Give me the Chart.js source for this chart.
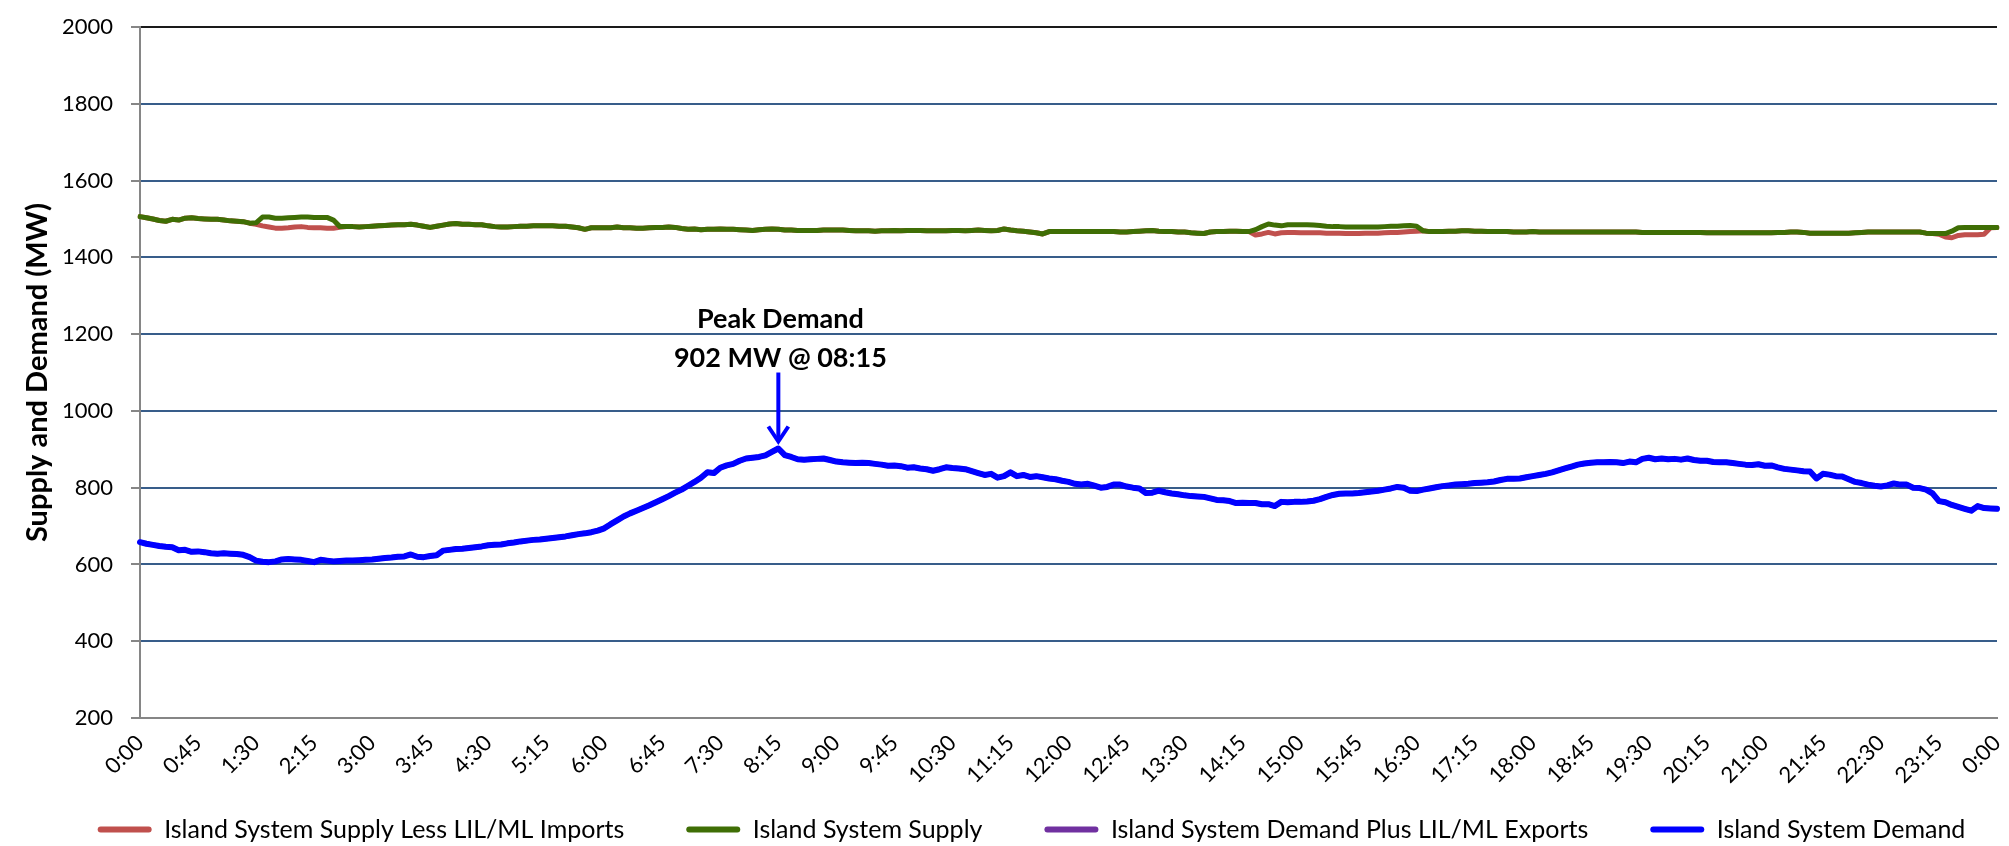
<!DOCTYPE html>
<html>
<head>
<meta charset="utf-8">
<script src="https://cdn.jsdelivr.net/npm/chart.js@4"></script>
<style>
  html, body { margin: 0; padding: 0; background: #ffffff; }
  #wrap { width: 2009px; height: 846px; }
</style>
</head>
<body>
<div id="wrap"><canvas id="c" width="2009" height="846"></canvas></div>
<script>
// ---- categories: 5-minute intervals 0:00 .. 0:00 (next day) ----
const timeLabels = [];
for (let m = 0; m <= 1440; m += 5) {
  const mm = m % 1440;
  timeLabels.push(Math.floor(mm / 60) + ':' + String(mm % 60).padStart(2, '0'));
}

// ---- visible x tick labels (every 45 minutes) ----
const tickLabels = ["0:00","0:45","1:30","2:15","3:00","3:45","4:30","5:15","6:00","6:45","7:30","8:15",
  "9:00","9:45","10:30","11:15","12:00","12:45","13:30","14:15","15:00","15:45","16:30","17:15",
  "18:00","18:45","19:30","20:15","21:00","21:45","22:30","23:15","0:00"];

// ---- series (MW), one row per hour, 12 values per row ----
const supplyLessImports = [
  1506,1503,1500,1496,1494,1499,1497,1502,1503,1501,1500,1499,
  1499,1497,1495,1494,1493,1489,1486,1482,1479,1476,1476,1477,
  1479,1480,1478,1477,1477,1476,1476,1478,1480,1480,1479,1480,
  1481,1482,1483,1484,1485,1485,1486,1484,1481,1478,1481,1484,
  1487,1488,1486,1486,1485,1485,1482,1480,1479,1479,1480,1481,
  1481,1482,1482,1482,1482,1481,1481,1479,1477,1473,1477,1477,
  1477,1477,1479,1477,1477,1476,1476,1477,1478,1478,1479,1478,
  1475,1473,1474,1472,1473,1473,1474,1473,1473,1472,1471,1470,
  1472,1473,1474,1473,1471,1471,1470,1470,1470,1470,1471,1471,
  1471,1471,1470,1469,1469,1469,1468,1469,1469,1470,1469,1470,
  1470,1470,1469,1469,1469,1469,1470,1470,1469,1470,1471,1470,
  1469,1470,1474,1471,1469,1468,1466,1464,1461,1467,1467,1467,
  1467,1467,1467,1467,1467,1467,1467,1467,1466,1466,1467,1468,
  1469,1470,1468,1467,1467,1466,1466,1464,1463,1462,1466,1467,
  1467,1468,1468,1467,1467,1458,1461,1465,1461,1464,1465,1465,
  1464,1464,1464,1464,1463,1463,1463,1462,1462,1462,1463,1463,
  1463,1464,1465,1465,1466,1467,1468,1469,1467,1467,1467,1468,
  1468,1469,1469,1468,1468,1467,1467,1467,1467,1466,1466,1466,
  1467,1466,1466,1466,1466,1466,1466,1466,1466,1466,1466,1466,
  1466,1466,1466,1466,1466,1465,1465,1465,1465,1465,1465,1465,
  1465,1465,1465,1464,1464,1464,1464,1464,1464,1464,1464,1464,
  1464,1464,1465,1465,1466,1466,1465,1463,1463,1463,1463,1463,
  1463,1463,1464,1465,1466,1466,1466,1466,1466,1466,1466,1466,
  1466,1463,1462,1460,1453,1451,1457,1459,1459,1459,1460,1477,
  1478
];

const islandSupply = [
  1506,1503,1500,1496,1494,1499,1497,1502,1503,1501,1500,1499,
  1499,1497,1495,1494,1493,1489,1490,1505,1505,1502,1502,1503,
  1504,1505,1505,1504,1504,1504,1497,1480,1480,1480,1479,1480,
  1481,1482,1483,1484,1485,1485,1486,1484,1481,1478,1481,1484,
  1487,1488,1486,1486,1485,1485,1482,1480,1479,1479,1480,1481,
  1481,1482,1482,1482,1482,1481,1481,1479,1477,1473,1477,1477,
  1477,1477,1479,1477,1477,1476,1476,1477,1478,1478,1479,1478,
  1475,1473,1474,1472,1473,1473,1474,1473,1473,1472,1471,1470,
  1472,1473,1474,1473,1471,1471,1470,1470,1470,1470,1471,1471,
  1471,1471,1470,1469,1469,1469,1468,1469,1469,1470,1469,1470,
  1470,1470,1469,1469,1469,1469,1470,1470,1469,1470,1471,1470,
  1469,1470,1474,1471,1469,1468,1466,1464,1461,1467,1467,1467,
  1467,1467,1467,1467,1467,1467,1467,1467,1466,1466,1467,1468,
  1469,1470,1468,1467,1467,1466,1466,1464,1463,1462,1466,1467,
  1467,1468,1468,1467,1467,1472,1480,1487,1484,1482,1485,1485,
  1485,1485,1484,1483,1481,1480,1480,1479,1479,1479,1479,1479,
  1479,1480,1481,1481,1482,1483,1481,1469,1467,1467,1467,1468,
  1468,1469,1469,1468,1468,1467,1467,1467,1467,1466,1466,1466,
  1467,1466,1466,1466,1466,1466,1466,1466,1466,1466,1466,1466,
  1466,1466,1466,1466,1466,1465,1465,1465,1465,1465,1465,1465,
  1465,1465,1465,1464,1464,1464,1464,1464,1464,1464,1464,1464,
  1464,1464,1465,1465,1466,1466,1465,1463,1463,1463,1463,1463,
  1463,1463,1464,1465,1466,1466,1466,1466,1466,1466,1466,1466,
  1466,1463,1462,1462,1462,1468,1477,1478,1478,1478,1478,1478,
  1478
];

const demandPlusExports = [
  658,654,651,648,646,645,637,638,633,634,632,629,
  628,629,628,627,625,619,610,607,606,608,613,614,
  613,612,609,606,612,610,608,609,610,610,611,612,
  613,615,617,618,620,621,626,620,619,622,624,636,
  638,640,641,643,645,647,650,651,652,655,657,660,
  662,664,665,667,669,671,673,676,679,681,684,688,
  694,705,715,725,733,740,747,754,762,770,778,787,
  795,805,815,826,840,838,852,858,862,870,876,878,
  880,884,893,902,885,880,874,873,874,875,876,872,
  868,866,865,864,865,864,862,860,857,858,856,852,
  853,850,848,844,848,853,851,850,848,843,838,833,
  836,826,830,840,830,833,828,830,827,824,822,818,
  815,810,808,810,805,800,802,808,808,803,800,798,
  786,787,792,788,785,783,780,778,777,776,772,768,
  767,765,760,761,760,760,757,757,752,763,762,763,
  763,764,766,770,776,781,784,785,785,786,788,790,
  792,795,798,802,800,792,791,795,798,801,804,806,
  808,809,810,812,813,814,816,820,823,823,824,827,
  830,833,836,840,845,850,855,860,863,865,866,866,
  867,866,864,868,866,875,878,874,876,874,875,873,
  876,872,870,870,867,866,866,864,862,860,859,861,
  857,858,853,849,847,845,843,842,824,836,834,830,
  829,822,815,812,808,805,803,806,811,808,808,800,
  799,795,785,765,762,755,750,745,740,752,747,746,
  745
];

const islandDemand = [
  658,654,651,648,646,645,637,638,633,634,632,629,
  628,629,628,627,625,619,610,607,606,608,613,614,
  613,612,609,606,612,610,608,609,610,610,611,612,
  613,615,617,618,620,621,626,620,619,622,624,636,
  638,640,641,643,645,647,650,651,652,655,657,660,
  662,664,665,667,669,671,673,676,679,681,684,688,
  694,705,715,725,733,740,747,754,762,770,778,787,
  795,805,815,826,840,838,852,858,862,870,876,878,
  880,884,893,902,885,880,874,873,874,875,876,872,
  868,866,865,864,865,864,862,860,857,858,856,852,
  853,850,848,844,848,853,851,850,848,843,838,833,
  836,826,830,840,830,833,828,830,827,824,822,818,
  815,810,808,810,805,800,802,808,808,803,800,798,
  786,787,792,788,785,783,780,778,777,776,772,768,
  767,765,760,761,760,760,757,757,752,763,762,763,
  763,764,766,770,776,781,784,785,785,786,788,790,
  792,795,798,802,800,792,791,795,798,801,804,806,
  808,809,810,812,813,814,816,820,823,823,824,827,
  830,833,836,840,845,850,855,860,863,865,866,866,
  867,866,864,868,866,875,878,874,876,874,875,873,
  876,872,870,870,867,866,866,864,862,860,859,861,
  857,858,853,849,847,845,843,842,824,836,834,830,
  829,822,815,812,808,805,803,806,811,808,808,800,
  799,795,785,765,762,755,750,745,740,752,747,746,
  745
];

const seriesNames = [
  "Island System Supply Less LIL/ML Imports",
  "Island System Supply",
  "Island System Demand Plus LIL/ML Exports",
  "Island System Demand"
];
const yTitle = "Supply and Demand (MW)";
const peakTitle = "Peak Demand";
const peakLabel = "902 MW @ 08:15";

const peakIndex = islandDemand.indexOf(Math.max(...islandDemand));

const FONT = "Lato, 'Open Sans', sans-serif";
const LEGEND_SHIFT_X = 33;
const LEGEND_SHIFT_Y = -29;
const LEGEND_WIDEN = 60;

const peakPlugin = {
  id: 'peakNote',
  afterDatasetsDraw(chart) {
    const { ctx, scales: { x, y } } = chart;
    const px = x.getPixelForValue(peakIndex);
    const py = y.getPixelForValue(islandDemand[peakIndex]);
    ctx.save();
    ctx.fillStyle = '#000000';
    ctx.font = "bold 27px " + FONT;
    ctx.textAlign = 'center';
    ctx.textBaseline = 'middle';
    ctx.fillText(peakTitle, px + 2, py - 129);
    ctx.fillText(peakLabel, px + 2, py - 90);
    ctx.strokeStyle = '#0000ff';
    ctx.lineWidth = 4;
    ctx.beginPath();
    ctx.moveTo(px, py - 76);
    ctx.lineTo(px, py - 8);
    ctx.stroke();
    ctx.beginPath();
    ctx.moveTo(px - 10, py - 22);
    ctx.lineTo(px, py - 7);
    ctx.lineTo(px + 10, py - 22);
    ctx.stroke();
    ctx.restore();
  }
};

const legendShiftPlugin = {
  id: 'legendShift',
  afterLayout(chart) {
    const lg = chart.legend;
    if (lg) {
      lg.left += LEGEND_SHIFT_X - LEGEND_WIDEN;
      lg.right += LEGEND_SHIFT_X + LEGEND_WIDEN;
      lg.top += LEGEND_SHIFT_Y;
      lg.bottom += LEGEND_SHIFT_Y;
    }
  }
};

const colors = ['#c0504d', '#3f6e05', '#7030a0', '#0000ff'];
const widths = [5, 5, 5, 6];
const allData = [supplyLessImports, islandSupply, demandPlusExports, islandDemand];
const orders = [3, 2, 1, 0];

const datasets = seriesNames.map((name, i) => ({
  label: name,
  data: allData[i],
  borderColor: colors[i],
  backgroundColor: colors[i],
  borderWidth: widths[i],
  pointRadius: 0,
  pointHoverRadius: 0,
  tension: 0,
  borderJoinStyle: 'round',
  borderCapStyle: 'round',
  fill: false,
  order: orders[i]
}));

new Chart(document.getElementById('c'), {
  type: 'line',
  data: { labels: timeLabels, datasets },
  options: {
    responsive: false,
    devicePixelRatio: 1,
    animation: false,
    layout: { padding: { left: 0, right: 12, top: 27, bottom: -35 } },
    plugins: {
      tooltip: { enabled: false },
      legend: {
        position: 'bottom',
        labels: {
          font: { family: FONT, size: 25 },
          color: '#000000',
          boxWidth: 54,
          boxHeight: 6,
          padding: 62,
          useBorderRadius: true,
          borderRadius: 3,
          sort: (a, b) => a.datasetIndex - b.datasetIndex,
          generateLabels(chart) {
            const items = Chart.defaults.plugins.legend.labels.generateLabels(chart);
            return items.map(it => Object.assign(it, { lineWidth: 0, fillStyle: it.strokeStyle }));
          }
        }
      }
    },
    scales: {
      x: {
        type: 'category',
        offset: false,
        grid: { display: false },
        border: { display: true, color: '#868686', width: 2 },
        ticks: {
          autoSkip: false,
          maxRotation: 45,
          minRotation: 45,
          padding: 4,
          color: '#000000',
          font: { family: FONT, size: 22 },
          callback: (val, idx) => (idx % 9 === 0 ? tickLabels[idx / 9] : '')
        },
        afterFit: (s) => { s.height = 66; s.paddingLeft = 0; s.paddingRight = 0; }
      },
      y: {
        min: 200,
        max: 2000,
        ticks: {
          stepSize: 200,
          padding: 18,
          color: '#000000',
          font: { family: FONT, size: 22 },
          callback: (v) => String(v)
        },
        grid: {
          color: (c) => (c.tick && c.tick.value === 2000 ? '#1a1a1a' : (c.tick && c.tick.value === 200 ? 'rgba(0,0,0,0)' : '#385d8a')),
          lineWidth: 2,
          tickColor: '#868686',
          tickLength: 9,
          drawTicks: true
        },
        border: { display: true, color: '#868686', width: 2 },
        title: {
          display: true,
          text: yTitle,
          color: '#000000',
          font: { family: FONT, size: 29, weight: 'bold' },
          padding: { top: 20, bottom: 0 }
        },
        afterFit: (s) => { s.width = 140; s.paddingTop = 0; s.paddingBottom = 0; }
      }
    }
  },
  plugins: [peakPlugin, legendShiftPlugin]
});
</script>
</body>
</html>
